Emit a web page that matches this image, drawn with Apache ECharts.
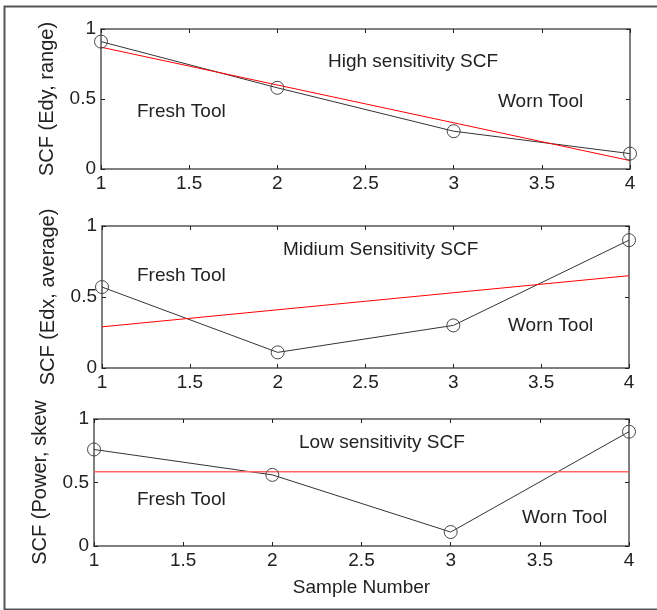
<!DOCTYPE html>
<html>
<head>
<meta charset="utf-8">
<script src="https://cdn.jsdelivr.net/npm/echarts@6/dist/echarts.min.js"></script>
<style>
  html, body { margin: 0; padding: 0; background: #fff; }
  #chart { width: 657px; height: 610px; }
</style>
</head>
<body>
<div id="chart"></div>
<script>
// sample numbers on the x axis
const samples = [1, 2, 3, 4]
const fitX = [1, 4]
const xTicks = [1, 1.5, 2, 2.5, 3, 3.5, 4]
const yTicks = [0, 0.5, 1]

// SCF values
const edyRange = [0.91, 0.58, 0.27, 0.11]
const edyFit = [0.87, 0.06]
const edxAverage = [0.57, 0.11, 0.30, 0.90]
const edxFit = [0.29, 0.65]
const powerSkew = [0.76, 0.56, 0.11, 0.90]
const powerFit = [0.585, 0.585]

const yNames = ['SCF (Edy, range)', 'SCF (Edx, average)', 'SCF (Power, skew']
const titles = ['High sensitivity SCF', 'Midium Sensitivity SCF', 'Low sensitivity SCF']

const font = 'Arial, "Liberation Sans", sans-serif'
const txt = '#222'
const axisCol = '#555'

const chart = echarts.init(document.getElementById('chart'))

const grids = [
  { left: 101, top: 29, width: 529, height: 140 },
  { left: 102, top: 226, width: 527, height: 142 },
  { left: 94, top: 419, width: 535, height: 127 }
]

const xAxis = []
const yAxis = []
grids.forEach((g, i) => {
  // bottom axis with labels
  xAxis.push({
    type: 'value', gridIndex: i, min: xTicks[0], max: xTicks[xTicks.length - 1], interval: 0.5,
    axisLine: { show: true, onZero: false, lineStyle: { color: axisCol, width: 1.5 } },
    axisTick: { inside: true, length: 4, lineStyle: { color: '#222' } },
    axisLabel: { color: txt, fontSize: 19, fontFamily: font, margin: 5 },
    splitLine: { show: false },
    name: i === 2 ? 'Sample Number' : '',
    nameLocation: 'middle', nameGap: 32,
    nameTextStyle: { color: txt, fontSize: 19, fontFamily: font }
  })
  // mirror ticks on top
  xAxis.push({
    type: 'value', gridIndex: i, position: 'top', min: 1, max: 4, interval: 0.5,
    axisLine: { show: true, onZero: false, lineStyle: { color: axisCol, width: 1.5 } },
    axisTick: { inside: true, length: 4, lineStyle: { color: '#222' } },
    axisLabel: { show: false },
    splitLine: { show: false }
  })
  yAxis.push({
    type: 'value', gridIndex: i, min: yTicks[0], max: yTicks[yTicks.length - 1], interval: 0.5,
    axisLine: { show: true, onZero: false, lineStyle: { color: axisCol, width: 1.5 } },
    axisTick: { inside: true, length: 4, lineStyle: { color: '#222' } },
    axisLabel: { color: txt, fontSize: 19, fontFamily: font, margin: 5 },
    splitLine: { show: false },
    name: yNames[i], nameLocation: 'middle', nameGap: 44, nameRotate: 90,
    nameTextStyle: { color: txt, fontSize: 20, fontFamily: font }
  })
  yAxis.push({
    type: 'value', gridIndex: i, position: 'right', min: 0, max: 1, interval: 0.5,
    axisLine: { show: true, onZero: false, lineStyle: { color: axisCol, width: 1.5 } },
    axisTick: { inside: true, length: 4, lineStyle: { color: '#222' } },
    axisLabel: { show: false },
    splitLine: { show: false }
  })
})

const measured = [edyRange, edxAverage, powerSkew]
const fits = [edyFit, edxFit, powerFit]
const series = []
measured.forEach((vals, i) => {
  series.push({
    type: 'line', xAxisIndex: i * 2, yAxisIndex: i * 2,
    data: samples.map((x, k) => [x, vals[k]]),
    symbol: 'circle', symbolSize: 13, showAllSymbol: true,
    itemStyle: { color: 'rgba(0,0,0,0)', borderColor: '#444', borderWidth: 1 },
    lineStyle: { color: '#333', width: 1 },
    silent: true, animation: false
  })
  series.push({
    type: 'line', xAxisIndex: i * 2, yAxisIndex: i * 2,
    data: fitX.map((x, k) => [x, fits[i][k]]),
    symbol: 'none',
    lineStyle: { color: i === 2 ? '#f66' : '#f00', width: i === 2 ? 1.5 : 1 },
    silent: true, animation: false
  })
})

// text notes inside the plots
const notes = [
  { t: titles[0], x: 328, y: 62 },
  { t: 'Fresh Tool', x: 137, y: 112 },
  { t: 'Worn Tool', x: 498, y: 102 },
  { t: titles[1], x: 283, y: 250 },
  { t: 'Fresh Tool', x: 137, y: 276 },
  { t: 'Worn Tool', x: 508, y: 326 },
  { t: titles[2], x: 299, y: 443 },
  { t: 'Fresh Tool', x: 137, y: 500 },
  { t: 'Worn Tool', x: 522, y: 518 }
]

const graphic = notes.map(n => ({
  type: 'text', left: n.x, top: n.y - 10, silent: true,
  style: { text: n.t, fill: txt, font: '19px ' + font }
}))
// outer frame (right edge falls outside the picture)
graphic.push({
  type: 'rect', left: 2, top: 4, silent: true, z: -1,
  shape: { width: 670, height: 603 },
  style: { fill: 'none', stroke: '#555', lineWidth: 2 }
})

chart.setOption({
  animation: false,
  grid: grids,
  xAxis: xAxis,
  yAxis: yAxis,
  series: series,
  graphic: graphic
})
</script>
</body>
</html>
